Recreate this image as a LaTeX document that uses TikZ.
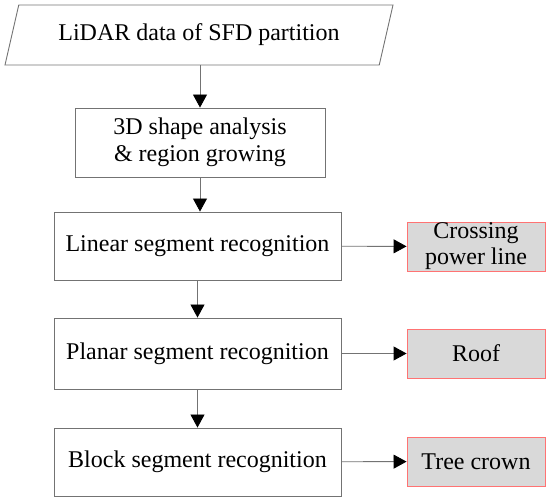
\documentclass[tikz,border=0pt]{standalone}
\usepackage{fontspec}
\setmainfont{Liberation Serif}
\usetikzlibrary{shapes.geometric,arrows.meta}

\begin{document}
\begin{tikzpicture}[
  x=1pt,y=-1pt,
  box/.style={draw=gray!90!black,line width=0.9pt,minimum width=287pt,minimum height=68pt,
              font=\fontsize{24}{27}\selectfont,align=center,inner sep=0pt},
  outbox/.style={draw=red!55,fill=gray!30,line width=0.9pt,minimum width=138pt,minimum height=49pt,
              font=\fontsize{24}{26}\selectfont,align=center,inner sep=0pt},
  flow/.style={draw=gray!90!black,line width=0.9pt,-{Triangle[length=13pt,width=14pt,black]}}
]
  \useasboundingbox (0,0) rectangle (550,502);

  %% ===== main chain =====

  % input data
  \node[box,trapezium,trapezium left angle=58,trapezium right angle=122,
        trapezium stretches body,minimum width=388pt,minimum height=60pt] (data) at (199,35)
    {LiDAR data of SFD partition};

  \node[box,minimum width=250pt,minimum height=69pt] (shape) at (200,142.5)
    {3D shape analysis\\\& region growing};

  \node[box] (linear) at (197.5,246) {Linear segment recognition};
  \node[box,minimum height=71pt] (planar) at (197.5,353.5) {Planar segment recognition};
  \node[box] (block) at (197.5,462) {Block segment recognition};

  \draw[flow] (data.south -| shape.north) -- (shape.north);
  \draw[flow] (shape) -- (shape.south |- linear.north);
  \draw[flow] (linear) -- (planar);
  \draw[flow] (planar) -- (block);

  %% ===== results =====
  \node[outbox] (power) at (476,246.5) {Crossing\\power line};
  \node[outbox] (roof) at (476,353.5) {Roof};
  \node[outbox] (crown) at (476,461.5) {Tree crown};

  \draw[flow] (linear) -- (power);
  \draw[flow] (planar) -- (roof);
  \draw[flow] (block) -- (crown);

\end{tikzpicture}
\end{document}
